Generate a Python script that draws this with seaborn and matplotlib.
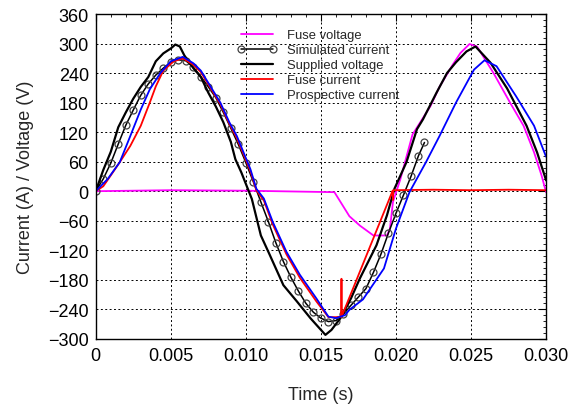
import numpy as np
import pandas as pd
import seaborn as sns
import matplotlib.pyplot as plt
from matplotlib.ticker import MultipleLocator

# --- Data (time in s, values in A or V) ---
fuse_v_t = [0.0, 0.005, 0.010, 0.0159, 0.0169, 0.0176, 0.0185, 0.0194, 0.0196, 0.0198,
            0.0203, 0.0211, 0.0223, 0.0229, 0.0238, 0.0243, 0.0249, 0.0254, 0.0265, 0.0276,
            0.0285, 0.0292, 0.0297, 0.0300]
fuse_v = [0, 2, 1, -2, -51, -70, -90, -90, -76, -22,
          25, 115, 173, 212, 258, 281, 299, 294, 240, 180,
          133, 79, 32, -2]

sim_t = [0.0, 0.0005, 0.0010, 0.0015, 0.0020, 0.0025, 0.0030, 0.0035, 0.0040, 0.0045,
         0.0050, 0.0055, 0.0060, 0.0065, 0.0070, 0.0075, 0.0080, 0.0085, 0.0090, 0.0095,
         0.0100, 0.0105, 0.0110, 0.0115, 0.0120, 0.0125, 0.0130, 0.0135, 0.0140, 0.0145,
         0.0150, 0.0155, 0.0160, 0.0165, 0.0170, 0.0175, 0.0180, 0.0185, 0.0190, 0.0195,
         0.0200, 0.0205, 0.0210, 0.0215, 0.0219]
sim_i = [0, 25, 57, 96, 134, 165, 195, 218, 236, 250,
         262, 267, 265, 252, 233, 212, 190, 160, 128, 95,
         58, 19, -22, -62, -105, -143, -175, -203, -228, -246,
         -258, -265, -263, -250, -232, -215, -198, -165, -128, -85,
         -45, -8, 30, 72, 99]

supply_t = [0.0, 0.0005, 0.0010, 0.0015, 0.0020, 0.0025, 0.0030, 0.0035, 0.0040, 0.0045,
            0.0050, 0.0053, 0.0056, 0.0059, 0.0065, 0.0070, 0.0075, 0.0080, 0.0085, 0.0090,
            0.0093, 0.0097, 0.0104, 0.0110, 0.0116, 0.0125, 0.0134, 0.0143, 0.0153, 0.0157,
            0.0163, 0.0170, 0.0176, 0.0187, 0.0194, 0.0199, 0.0207, 0.0214, 0.0218, 0.0227,
            0.0234, 0.0240, 0.0247, 0.0253, 0.0263, 0.0274, 0.0287, 0.0294, 0.0299, 0.0300]
supply_v = [0, 43, 80, 130, 160, 188, 212, 232, 264, 280,
            290, 298, 294, 276, 250, 232, 200, 172, 140, 100,
            65, 38, -16, -90, -130, -191, -224, -258, -292, -282,
            -258, -218, -177, -110, -49, 5, 59, 126, 146, 200,
            240, 262, 284, 294, 261, 209, 133, 79, 32, 22]

fuse_i_t = [0.0, 0.0005, 0.0010, 0.0016, 0.0023, 0.0030, 0.0036, 0.0040, 0.0045, 0.0052,
            0.0058, 0.0065, 0.0070, 0.0076, 0.0083, 0.0089, 0.0094, 0.0103, 0.0107, 0.0112,
            0.0118, 0.0127, 0.0136, 0.0147, 0.0155, 0.0160, 0.0163, 0.01636, 0.01637, 0.01638,
            0.0197, 0.01978, 0.0198, 0.01982, 0.0225, 0.0250, 0.0275, 0.0300]
fuse_i = [0, 10, 32, 59, 92, 133, 180, 213, 245, 264,
          270, 257, 242, 212, 177, 137, 108, 41, 2, -19,
          -68, -128, -176, -224, -256, -256, -255, -255, -178, -255,
          -5, 1, -18, 2, 3, 2, 3, 2]

prosp_t = [0.0, 0.0008, 0.0016, 0.0023, 0.0030, 0.0036, 0.0043, 0.0050, 0.0058, 0.0065,
           0.0070, 0.0076, 0.0083, 0.0089, 0.0094, 0.0103, 0.0107, 0.0112, 0.0118, 0.0127,
           0.0136, 0.0147, 0.0155, 0.0160, 0.0166, 0.0169, 0.0178, 0.0192, 0.0200, 0.0209,
           0.0220, 0.0229, 0.0240, 0.0252, 0.0259, 0.0267, 0.0280, 0.0292, 0.0300]
prosp_i = [0, 25, 59, 112, 166, 207, 240, 264, 273, 260,
           245, 215, 180, 140, 112, 45, 5, -15, -63, -123,
           -170, -218, -255, -258, -252, -241, -220, -157, -76, -2,
           59, 112, 180, 247, 266, 254, 193, 133, 70]

x_ticks = [0, 0.005, 0.010, 0.015, 0.020, 0.025, 0.030]
x_tick_labels = ['0', '0.005', '0.010', '0.015', '0.020', '0.025', '0.030']
y_ticks = [-300, -240, -180, -120, -60, 0, 60, 120, 180, 240, 300, 360]


def main():
    sns.set_style('white')
    plt.rcParams['font.family'] = ['Liberation Sans', 'DejaVu Sans']

    fig, ax = plt.subplots(figsize=(5.7, 4.06), dpi=100)
    fig.subplots_adjust(left=0.168, right=0.958, top=0.963, bottom=0.163)

    series = [
        (fuse_v_t, fuse_v, 'Fuse voltage', dict(color='#ff00ff', lw=1.3)),
        (sim_t, sim_i, 'Simulated current',
         dict(color='black', lw=1.1, marker='o', markersize=5,
              markerfacecolor='none', markeredgecolor='#404040', markeredgewidth=0.9)),
        (supply_t, supply_v, 'Supplied voltage', dict(color='black', lw=1.6)),
        (fuse_i_t, fuse_i, 'Fuse current', dict(color='#ff0000', lw=1.3)),
        (prosp_t, prosp_i, 'Prospective current', dict(color='#0000ff', lw=1.3)),
    ]
    for t, v, name, style in series:
        df = pd.DataFrame({'t': t, 'v': v})
        sns.lineplot(data=df, x='t', y='v', ax=ax, sort=False, estimator=None,
                     label=name, **style)

    ax.set_xlim(0, 0.030)
    ax.set_ylim(-300, 360)
    ax.set_xticks(x_ticks)
    ax.set_xticklabels(x_tick_labels)
    ax.set_yticks(y_ticks)
    ax.xaxis.set_minor_locator(MultipleLocator(0.001))
    ax.yaxis.set_minor_locator(MultipleLocator(12))
    ax.tick_params(which='both', direction='in', top=True, right=True,
                   labelsize=13, colors='black')
    ax.tick_params(which='major', length=5, width=0.8)
    ax.tick_params(axis='x', which='major', pad=6)
    ax.tick_params(axis='y', which='major', pad=5)
    ax.tick_params(which='minor', length=2.5, width=0.6)

    ax.grid(True, which='major', color='black', linestyle=(0, (2, 2.5)), linewidth=0.7)
    for s in ax.spines.values():
        s.set_color('black')
        s.set_linewidth(1.0)

    ax.set_xlabel('Time (s)', fontsize=13, labelpad=16)
    ax.set_ylabel('Current (A) / Voltage (V)', fontsize=13, labelpad=10)

    ax.legend(loc='upper left', bbox_to_anchor=(0.29, 0.986), frameon=False,
              fontsize=9.4, handlelength=3.1, handletextpad=0.75,
              labelspacing=0.22, borderpad=0.3, numpoints=2)

    plt.savefig('out.png', dpi=100)
    plt.close()


if __name__ == '__main__':
    main()
